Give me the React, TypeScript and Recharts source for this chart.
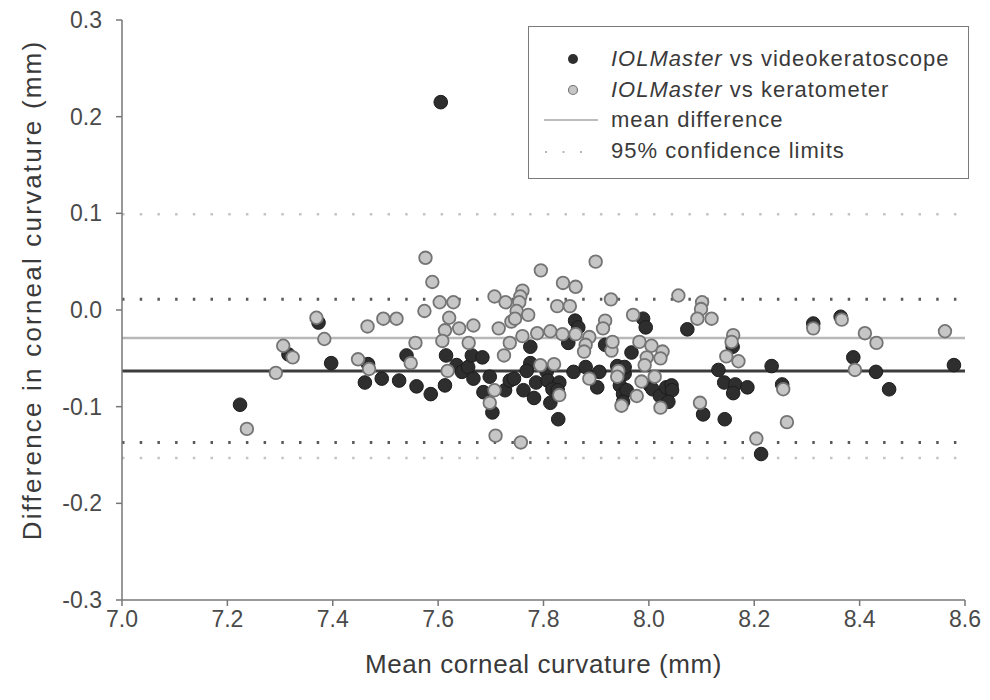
import React from 'react';
import {
  ScatterChart,
  Scatter,
  XAxis,
  YAxis,
  ReferenceLine,
} from 'recharts';

// IOLMaster vs videokeratoscope (dark points)
const videoPoints = [
  { x: 7.605, y: 0.215 }, { x: 7.224, y: -0.098 }, { x: 7.316, y: -0.046 }, { x: 7.373, y: -0.013 },
  { x: 7.397, y: -0.055 }, { x: 7.467, y: -0.056 }, { x: 7.461, y: -0.075 }, { x: 7.493, y: -0.071 },
  { x: 7.526, y: -0.073 }, { x: 7.54, y: -0.047 }, { x: 7.559, y: -0.079 }, { x: 7.586, y: -0.087 },
  { x: 7.615, y: -0.047 }, { x: 7.613, y: -0.078 }, { x: 7.635, y: -0.057 }, { x: 7.645, y: -0.064 },
  { x: 7.657, y: -0.059 }, { x: 7.664, y: -0.047 }, { x: 7.684, y: -0.049 }, { x: 7.667, y: -0.071 },
  { x: 7.698, y: -0.069 }, { x: 7.686, y: -0.085 }, { x: 7.703, y: -0.106 }, { x: 7.727, y: -0.083 },
  { x: 7.736, y: -0.073 }, { x: 7.775, y: -0.038 }, { x: 7.86, y: -0.011 }, { x: 7.866, y: -0.018 },
  { x: 7.847, y: -0.034 }, { x: 7.917, y: -0.036 }, { x: 7.989, y: -0.009 }, { x: 7.994, y: -0.018 },
  { x: 7.967, y: -0.044 }, { x: 7.775, y: -0.055 }, { x: 7.768, y: -0.063 }, { x: 7.744, y: -0.071 },
  { x: 7.762, y: -0.083 }, { x: 7.782, y: -0.091 }, { x: 7.786, y: -0.075 }, { x: 7.806, y: -0.064 },
  { x: 7.808, y: -0.073 }, { x: 7.83, y: -0.075 }, { x: 7.817, y: -0.082 }, { x: 7.827, y: -0.083 },
  { x: 7.813, y: -0.096 }, { x: 7.828, y: -0.113 }, { x: 7.857, y: -0.064 }, { x: 7.88, y: -0.059 },
  { x: 7.906, y: -0.064 }, { x: 7.902, y: -0.08 }, { x: 7.94, y: -0.058 }, { x: 7.954, y: -0.066 },
  { x: 7.954, y: -0.059 }, { x: 7.945, y: -0.078 }, { x: 7.951, y: -0.087 }, { x: 7.958, y: -0.083 },
  { x: 7.951, y: -0.095 }, { x: 8.002, y: -0.078 }, { x: 8.007, y: -0.082 }, { x: 8.021, y: -0.089 },
  { x: 8.033, y: -0.08 }, { x: 8.043, y: -0.078 }, { x: 8.044, y: -0.083 }, { x: 8.037, y: -0.095 },
  { x: 8.073, y: -0.02 }, { x: 8.103, y: -0.108 }, { x: 8.159, y: -0.038 }, { x: 8.132, y: -0.062 },
  { x: 8.143, y: -0.075 }, { x: 8.164, y: -0.077 }, { x: 8.16, y: -0.086 }, { x: 8.187, y: -0.08 },
  { x: 8.144, y: -0.113 }, { x: 8.213, y: -0.149 }, { x: 8.233, y: -0.058 }, { x: 8.253, y: -0.077 },
  { x: 8.312, y: -0.014 }, { x: 8.364, y: -0.007 }, { x: 8.388, y: -0.049 }, { x: 8.431, y: -0.064 },
  { x: 8.456, y: -0.082 }, { x: 8.579, y: -0.057 },
];

// IOLMaster vs keratometer (light points)
const keratoPoints = [
  { x: 7.237, y: -0.123 }, { x: 7.292, y: -0.065 }, { x: 7.306, y: -0.037 }, { x: 7.324, y: -0.049 },
  { x: 7.369, y: -0.008 }, { x: 7.384, y: -0.03 }, { x: 7.448, y: -0.051 }, { x: 7.469, y: -0.061 },
  { x: 7.466, y: -0.017 }, { x: 7.496, y: -0.009 }, { x: 7.521, y: -0.009 }, { x: 7.548, y: -0.055 },
  { x: 7.557, y: -0.034 }, { x: 7.576, y: 0.054 }, { x: 7.589, y: 0.029 }, { x: 7.574, y: -0.001 },
  { x: 7.603, y: 0.008 }, { x: 7.629, y: 0.008 }, { x: 7.621, y: -0.008 }, { x: 7.613, y: -0.021 },
  { x: 7.608, y: -0.032 }, { x: 7.64, y: -0.019 }, { x: 7.667, y: -0.016 }, { x: 7.658, y: -0.034 },
  { x: 7.618, y: -0.063 }, { x: 7.707, y: -0.083 }, { x: 7.698, y: -0.096 }, { x: 7.709, y: -0.13 },
  { x: 7.707, y: 0.014 }, { x: 7.728, y: 0.008 }, { x: 7.715, y: -0.019 }, { x: 7.725, y: -0.047 },
  { x: 7.736, y: -0.034 }, { x: 7.739, y: -0.012 }, { x: 7.795, y: 0.041 }, { x: 7.837, y: 0.028 },
  { x: 7.861, y: 0.024 }, { x: 7.899, y: 0.05 }, { x: 7.76, y: 0.02 }, { x: 7.756, y: 0.014 },
  { x: 7.754, y: 0.008 }, { x: 7.749, y: -0.001 }, { x: 7.746, y: -0.009 }, { x: 7.771, y: -0.005 },
  { x: 7.826, y: 0.004 }, { x: 7.85, y: 0.004 }, { x: 7.76, y: -0.027 }, { x: 7.788, y: -0.024 },
  { x: 7.813, y: -0.022 }, { x: 7.836, y: -0.025 }, { x: 7.861, y: -0.025 }, { x: 7.887, y: -0.028 },
  { x: 7.88, y: -0.036 }, { x: 7.877, y: -0.043 }, { x: 7.928, y: 0.011 }, { x: 7.917, y: -0.011 },
  { x: 7.913, y: -0.019 }, { x: 7.929, y: -0.042 }, { x: 7.931, y: -0.033 }, { x: 7.97, y: -0.005 },
  { x: 7.982, y: -0.033 }, { x: 8.005, y: -0.037 }, { x: 8.026, y: -0.043 }, { x: 8.022, y: -0.05 },
  { x: 7.996, y: -0.049 }, { x: 7.992, y: -0.057 }, { x: 7.794, y: -0.057 }, { x: 7.82, y: -0.056 },
  { x: 7.83, y: -0.088 }, { x: 7.887, y: -0.071 }, { x: 7.757, y: -0.137 }, { x: 7.942, y: -0.063 },
  { x: 7.94, y: -0.069 }, { x: 7.948, y: -0.099 }, { x: 7.977, y: -0.089 }, { x: 7.986, y: -0.074 },
  { x: 8.011, y: -0.069 }, { x: 8.022, y: -0.101 }, { x: 8.056, y: 0.015 }, { x: 8.101, y: 0.008 },
  { x: 8.099, y: 0.001 }, { x: 8.092, y: -0.009 }, { x: 8.119, y: -0.009 }, { x: 8.16, y: -0.026 },
  { x: 8.157, y: -0.033 }, { x: 8.147, y: -0.048 }, { x: 8.17, y: -0.053 }, { x: 8.255, y: -0.082 },
  { x: 8.262, y: -0.116 }, { x: 8.204, y: -0.133 }, { x: 8.097, y: -0.096 }, { x: 8.312, y: -0.019 },
  { x: 8.366, y: -0.01 }, { x: 8.41, y: -0.024 }, { x: 8.432, y: -0.034 }, { x: 8.391, y: -0.062 },
  { x: 8.562, y: -0.022 },
];

const videoMean = -0.063;
const videoLimits = [0.011, -0.137];
const keratoMean = -0.029;
const keratoLimits = [0.099, -0.153];

const xTicks = [7.0, 7.2, 7.4, 7.6, 7.8, 8.0, 8.2, 8.4, 8.6];
const yTicks = [-0.3, -0.2, -0.1, 0.0, 0.1, 0.2, 0.3];

const FONT = '"Liberation Sans", Arial, sans-serif';
const DARK = '#2e2e2e';
const LIGHT = '#c6c6c6';

const darkDot = (p: any) => (
  <circle cx={p.cx} cy={p.cy} r={6.8} fill={DARK} stroke="#1c1c1c" strokeWidth={1} />
);
const lightDot = (p: any) => (
  <circle cx={p.cx} cy={p.cy} r={6.3} fill={LIGHT} stroke="#747474" strokeWidth={1.8} />
);

const legendRows = [
  { kind: 'dark', italic: 'IOLMaster', text: ' vs videokeratoscope' },
  { kind: 'light', italic: 'IOLMaster', text: ' vs keratometer' },
  { kind: 'line', italic: '', text: 'mean difference' },
  { kind: 'dots', italic: '', text: '95% confidence limits' },
];

// legend box sits over the top-right of the plot
const ChartLegend = () => (
  <div
    style={{
      position: 'absolute',
      left: 528,
      top: 26,
      width: 441,
      height: 153,
      border: '1.5px solid #7a7a7a',
      background: '#fff',
      boxSizing: 'border-box',
      paddingTop: 17,
      fontFamily: FONT,
      fontSize: 22,
      color: '#3a3a3a',
    }}
  >
    {legendRows.map((r) => (
      <div key={r.text} style={{ display: 'flex', alignItems: 'center', height: 30.5 }}>
        <svg width={82} height={20} style={{ flex: 'none' }}>
          {r.kind === 'dark' && <circle cx={44} cy={10} r={5} fill={DARK} />}
          {r.kind === 'light' && <circle cx={44} cy={10} r={4.5} fill={LIGHT} stroke="#777" strokeWidth={1.2} />}
          {r.kind === 'line' && <line x1={15} x2={69} y1={10} y2={10} stroke="#bdbdbd" strokeWidth={2} />}
          {r.kind === 'dots' &&
            <line x1={16} x2={55} y1={11} y2={11} stroke="#b5b5b5" strokeWidth={2} strokeDasharray="2 15.5" />}
        </svg>
        <span style={{ whiteSpace: 'nowrap', letterSpacing: 1.0 }}>
          {r.italic && <i>{r.italic}</i>}
          {r.text}
        </span>
      </div>
    ))}
  </div>
);

export default function App() {
  return (
    <div style={{ position: 'absolute', left: 0, top: 0, width: 990, height: 700, background: '#fff' }}>
      <ScatterChart width={990} height={700} margin={{ top: 20, right: 25, bottom: 0, left: 0 }}>
        <XAxis
          type="number"
          dataKey="x"
          domain={[7.0, 8.6]}
          ticks={xTicks}
          tickFormatter={(v: number) => v.toFixed(1)}
          height={100}
          stroke="#777"
          strokeWidth={1.5}
          tickSize={6}
          tickMargin={5}
          tick={{ fill: '#4a4a4a', fontSize: 23, fontFamily: FONT }}
          label={{
            value: 'Mean corneal curvature (mm)',
            position: 'insideBottom',
            offset: 27,
            style: { fill: '#3a3a3a', fontSize: 26, fontFamily: FONT, letterSpacing: 0.6 },
          }}
        />
        <YAxis
          type="number"
          dataKey="y"
          domain={[-0.3, 0.3]}
          ticks={yTicks}
          tickFormatter={(v: number) => v.toFixed(1)}
          width={122}
          stroke="#777"
          strokeWidth={1.5}
          tickSize={6}
          tickMargin={14}
          tick={{ fill: '#4a4a4a', fontSize: 23, fontFamily: FONT }}
          label={{
            value: 'Difference in corneal curvature (mm)',
            angle: -90,
            position: 'insideLeft',
            offset: 32,
            dy: -20,
            style: { textAnchor: 'middle', fill: '#3a3a3a', fontSize: 26, fontFamily: FONT, letterSpacing: 2.2 },
          }}
        />
        {keratoLimits.map((v) => (
          <ReferenceLine key={'kl' + v} y={v} stroke="#c4c4c4" strokeWidth={2.5} strokeDasharray="2.5 15.2" />
        ))}
        {videoLimits.map((v) => (
          <ReferenceLine key={'vl' + v} y={v} stroke="#5a5a5a" strokeWidth={3} strokeDasharray="2.5 15.2" />
        ))}
        <ReferenceLine y={keratoMean} stroke="#b8b8b8" strokeWidth={2.5} />
        <ReferenceLine y={videoMean} stroke="#3c3c3c" strokeWidth={3} />
        <Scatter name="video" data={videoPoints} shape={darkDot} isAnimationActive={false} />
        <Scatter name="kerato" data={keratoPoints} shape={lightDot} isAnimationActive={false} />
      </ScatterChart>
      <ChartLegend />
    </div>
  );
}
